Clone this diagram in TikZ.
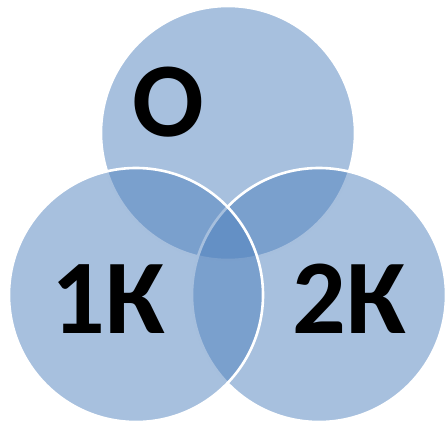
\documentclass[tikz,border=0pt]{standalone}
\usepackage{fontspec}
\setmainfont{Carlito}
\definecolor{setblue}{HTML}{4F81BD}

\tikzset{
  set/.style={circle, draw=white, line width=2.6pt, fill=setblue,
    fill opacity=0.5, minimum size=254pt, inner sep=0pt},
  setlabel/.style={text=black, font=\bfseries\fontsize{106}{110}\selectfont, inner sep=0pt}
}

\begin{document}
\begin{tikzpicture}[x=1pt, y=-1pt]
\useasboundingbox (0,0) rectangle (446,426);
% the three sets, top one first so the others lie over it
\node[set] (o) at (228,133) {};
\node[set] (k2) at (319,295) {};
\node[set] (k1) at (136,295) {};
% labels
\node[setlabel] (lo) at (168,102) {О};
\node[setlabel] (lk1) at (108,299) {1К};
\node[setlabel] (lk2) at (349,299) {2К};
\end{tikzpicture}
\end{document}
